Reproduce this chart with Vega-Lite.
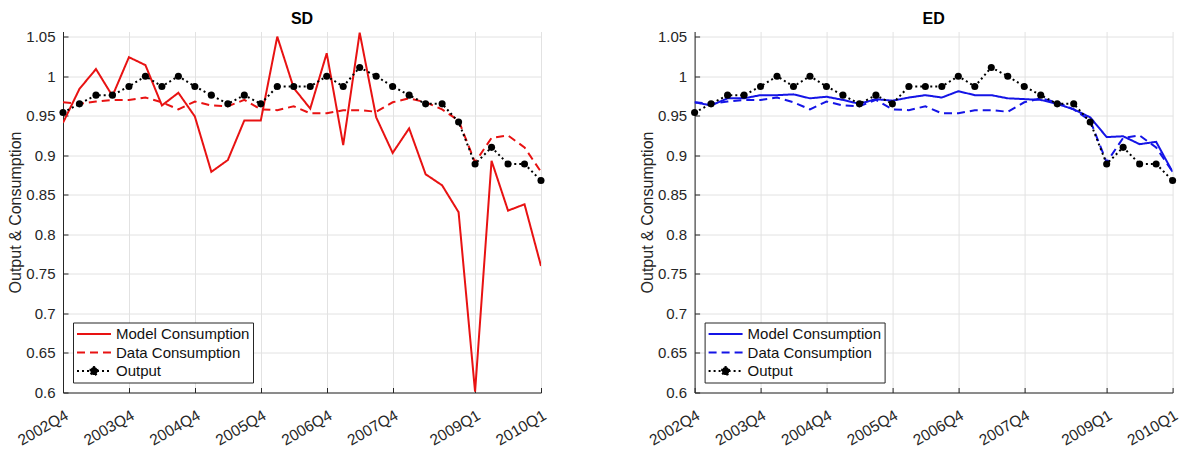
{
  "$schema": "https://vega.github.io/schema/vega-lite/v6.json",
  "background": "white",
  "bounds": "flush",
  "spacing": 153.6,
  "padding": {"left": 7, "top": 10.5, "right": 5, "bottom": 5},
  "config": {
    "font": "Liberation Sans",
    "view": {"stroke": null},
    "axis": {
      "domainColor": "#262626",
      "domainWidth": 1,
      "tickColor": "#262626",
      "tickSize": -5,
      "gridColor": "#e2e2e2",
      "gridWidth": 1,
      "labelColor": "#262626",
      "labelFont": "Liberation Sans",
      "labelFontSize": 15,
      "titleColor": "#262626",
      "titleFont": "Liberation Sans",
      "titleFontSize": 16,
      "titleFontWeight": "normal"
    },
    "title": {"font": "Liberation Sans", "fontSize": 16, "fontWeight": "bold", "color": "#000000", "offset": 2.5, "anchor": "middle"},
    "legend": {
      "orient": "bottom-left",
      "offset": 10,
      "title": null,
      "fillColor": "white",
      "strokeColor": "#262626",
      "padding": 3,
      "rowPadding": 1.5,
      "symbolSize": 225,
      "symbolStrokeWidth": 2,
      "labelOffset": 23,
      "labelFont": "Liberation Sans",
      "labelFontSize": 15,
      "labelColor": "#111111"
    }
  },
  "datasets": {
    "quarters": [
      {"quarter": "2002Q4", "output": 0.954, "data": 0.967, "sd": 0.941, "ed": 0.967},
      {"quarter": "2003Q1", "output": 0.965, "data": 0.965, "sd": 0.984, "ed": 0.963},
      {"quarter": "2003Q2", "output": 0.976, "data": 0.968, "sd": 1.009, "ed": 0.972},
      {"quarter": "2003Q3", "output": 0.976, "data": 0.970, "sd": 0.975, "ed": 0.972},
      {"quarter": "2003Q4", "output": 0.987, "data": 0.970, "sd": 1.024, "ed": 0.976},
      {"quarter": "2004Q1", "output": 1.000, "data": 0.973, "sd": 1.014, "ed": 0.976},
      {"quarter": "2004Q2", "output": 0.987, "data": 0.967, "sd": 0.963, "ed": 0.977},
      {"quarter": "2004Q3", "output": 1.000, "data": 0.958, "sd": 0.979, "ed": 0.972},
      {"quarter": "2004Q4", "output": 0.987, "data": 0.968, "sd": 0.949, "ed": 0.974},
      {"quarter": "2005Q1", "output": 0.976, "data": 0.963, "sd": 0.879, "ed": 0.970},
      {"quarter": "2005Q2", "output": 0.965, "data": 0.962, "sd": 0.894, "ed": 0.965},
      {"quarter": "2005Q3", "output": 0.976, "data": 0.970, "sd": 0.944, "ed": 0.971},
      {"quarter": "2005Q4", "output": 0.965, "data": 0.958, "sd": 0.944, "ed": 0.969},
      {"quarter": "2006Q1", "output": 0.987, "data": 0.957, "sd": 1.050, "ed": 0.973},
      {"quarter": "2006Q2", "output": 0.987, "data": 0.962, "sd": 0.985, "ed": 0.976},
      {"quarter": "2006Q3", "output": 0.987, "data": 0.953, "sd": 0.959, "ed": 0.973},
      {"quarter": "2006Q4", "output": 1.000, "data": 0.953, "sd": 1.029, "ed": 0.981},
      {"quarter": "2007Q1", "output": 0.987, "data": 0.957, "sd": 0.913, "ed": 0.976},
      {"quarter": "2007Q2", "output": 1.011, "data": 0.957, "sd": 1.055, "ed": 0.976},
      {"quarter": "2007Q3", "output": 1.000, "data": 0.955, "sd": 0.948, "ed": 0.972},
      {"quarter": "2007Q4", "output": 0.987, "data": 0.967, "sd": 0.903, "ed": 0.971},
      {"quarter": "2008Q1", "output": 0.976, "data": 0.972, "sd": 0.934, "ed": 0.970},
      {"quarter": "2008Q2", "output": 0.965, "data": 0.967, "sd": 0.876, "ed": 0.965},
      {"quarter": "2008Q3", "output": 0.965, "data": 0.958, "sd": 0.862, "ed": 0.958},
      {"quarter": "2008Q4", "output": 0.942, "data": 0.944, "sd": 0.828, "ed": 0.948},
      {"quarter": "2009Q1", "output": 0.889, "data": 0.891, "sd": 0.601, "ed": 0.923},
      {"quarter": "2009Q2", "output": 0.910, "data": 0.922, "sd": 0.893, "ed": 0.924},
      {"quarter": "2009Q3", "output": 0.889, "data": 0.925, "sd": 0.830, "ed": 0.914},
      {"quarter": "2009Q4", "output": 0.889, "data": 0.910, "sd": 0.838, "ed": 0.917},
      {"quarter": "2010Q1", "output": 0.868, "data": 0.879, "sd": 0.760, "ed": 0.879}
    ]
  },
  "resolve": {
    "scale": {"color": "independent", "strokeDash": "independent"},
    "legend": {"color": "independent", "strokeDash": "independent"}
  },
  "hconcat": [
    {
      "title": "SD",
      "width": 478,
      "height": 361,
      "data": {"name": "quarters"},
      "transform": [{"fold": ["sd", "data", "output"], "as": ["series", "value"]}],
      "encoding": {
        "x": {
          "field": "quarter", "type": "ordinal",
          "scale": {"type": "point", "padding": 0},
          "axis": {
            "title": null, "grid": true,
            "values": ["2002Q4", "2003Q4", "2004Q4", "2005Q4", "2006Q4", "2007Q4", "2009Q1", "2010Q1"],
            "labelAngle": -30, "labelAlign": "right", "labelBaseline": "top",
            "labelOffset": 0, "labelPadding": 20, "labelFontSize": 15.5
          }
        },
        "y": {
          "field": "value", "type": "quantitative",
          "scale": {"domain": [0.6, 1.0565], "nice": false, "zero": false},
          "axis": {
            "title": "Output & Consumption", "grid": true,
            "values": [0.6, 0.65, 0.7, 0.75, 0.8, 0.85, 0.9, 0.95, 1, 1.05],
            "format": ".2~f", "labelPadding": 13, "titlePadding": 2
          }
        }
      },
      "layer": [
        {
          "mark": {"type": "line", "clip": true, "strokeWidth": 2},
          "encoding": {
            "color": {
              "field": "series", "type": "nominal",
              "scale": {"domain": ["sd", "data", "output"], "range": ["#e81212", "#e81212", "#000000"]},
              "legend": {
                "labelExpr": "datum.label === 'output' ? 'Output' : datum.label === 'data' ? 'Data Consumption' : 'Model Consumption'",
                "encode": {"symbols": {"update": {
                  "shape": {"signal": "datum.value === 'output' ? 'M-1,0H3.53M0.8,0A0.47,0.47,0,1,1,1.73,0A0.47,0.47,0,1,1,0.8,0Z' : 'M-1,0H3.53'"},
                  "fill": {"signal": "datum.value === 'output' ? '#000000' : 'transparent'"},
                  "strokeWidth": {"value": 2}
                }}}
              }
            },
            "strokeDash": {
              "field": "series", "type": "nominal",
              "scale": {"domain": ["sd", "data", "output"], "range": [[1, 0], [8, 5], [2, 3]]}
            }
          }
        },
        {
          "transform": [{"filter": "datum.series === 'output'"}],
          "mark": {"type": "point", "filled": true, "color": "#000000", "opacity": 1, "size": 50}
        }
      ]
    },
    {
      "title": "ED",
      "width": 478,
      "height": 361,
      "data": {"name": "quarters"},
      "transform": [{"fold": ["ed", "data", "output"], "as": ["series", "value"]}],
      "encoding": {
        "x": {
          "field": "quarter", "type": "ordinal",
          "scale": {"type": "point", "padding": 0},
          "axis": {
            "title": null, "grid": true,
            "values": ["2002Q4", "2003Q4", "2004Q4", "2005Q4", "2006Q4", "2007Q4", "2009Q1", "2010Q1"],
            "labelAngle": -30, "labelAlign": "right", "labelBaseline": "top",
            "labelOffset": 0, "labelPadding": 20, "labelFontSize": 15.5
          }
        },
        "y": {
          "field": "value", "type": "quantitative",
          "scale": {"domain": [0.6, 1.0565], "nice": false, "zero": false},
          "axis": {
            "title": "Output & Consumption", "grid": true,
            "values": [0.6, 0.65, 0.7, 0.75, 0.8, 0.85, 0.9, 0.95, 1, 1.05],
            "format": ".2~f", "labelPadding": 13, "titlePadding": 2
          }
        }
      },
      "layer": [
        {
          "mark": {"type": "line", "clip": true, "strokeWidth": 2},
          "encoding": {
            "color": {
              "field": "series", "type": "nominal",
              "scale": {"domain": ["ed", "data", "output"], "range": ["#1414e6", "#1414e6", "#000000"]},
              "legend": {
                "labelExpr": "datum.label === 'output' ? 'Output' : datum.label === 'data' ? 'Data Consumption' : 'Model Consumption'",
                "encode": {"symbols": {"update": {
                  "shape": {"signal": "datum.value === 'output' ? 'M-1,0H3.53M0.8,0A0.47,0.47,0,1,1,1.73,0A0.47,0.47,0,1,1,0.8,0Z' : 'M-1,0H3.53'"},
                  "fill": {"signal": "datum.value === 'output' ? '#000000' : 'transparent'"},
                  "strokeWidth": {"value": 2}
                }}}
              }
            },
            "strokeDash": {
              "field": "series", "type": "nominal",
              "scale": {"domain": ["ed", "data", "output"], "range": [[1, 0], [8, 5], [2, 3]]}
            }
          }
        },
        {
          "transform": [{"filter": "datum.series === 'output'"}],
          "mark": {"type": "point", "filled": true, "color": "#000000", "opacity": 1, "size": 50}
        }
      ]
    }
  ]
}
